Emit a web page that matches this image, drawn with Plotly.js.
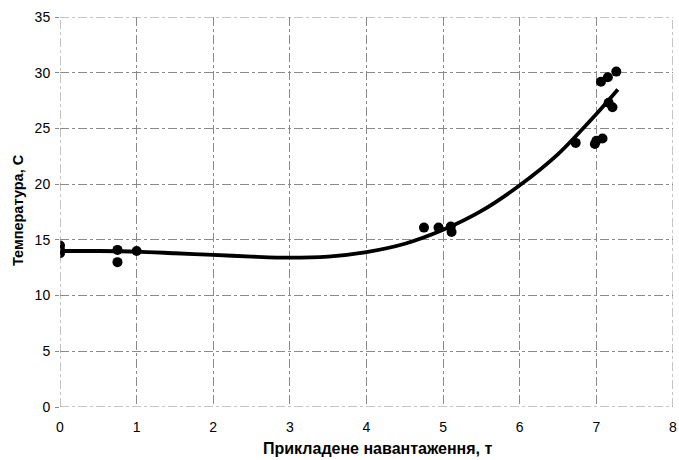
<!DOCTYPE html>
<html>
<head>
<meta charset="utf-8">
<script src="https://cdn.plot.ly/plotly-3.0.1.min.js"></script>
<style>html,body{margin:0;padding:0;background:#fff;}#chart{width:679px;height:460px;}</style>
</head>
<body>
<div id="chart"></div>
<script>
// Measured points: applied load (t) vs temperature (C)
const loadX = [0, 0, 0, 0.75, 0.75, 1.0, 4.75, 4.94, 5.1, 5.11, 6.73, 6.98, 7.0, 7.08, 7.06, 7.15, 7.26, 7.21, 7.16];
const tempY = [14.5, 14.1, 13.8, 14.1, 13.0, 14.0, 16.1, 16.1, 16.2, 15.7, 23.7, 23.6, 23.9, 24.1, 29.2, 29.6, 30.1, 26.9, 27.3];

// Trend curve
const trendX = [0, 0.5, 1, 1.5, 2, 2.5, 3, 3.5, 4, 4.5, 5, 5.5, 6, 6.5, 7, 7.28];
const trendY = [14.0, 14.0, 13.95, 13.8, 13.65, 13.5, 13.4, 13.5, 13.9, 14.65, 15.9, 17.6, 19.9, 22.7, 26.3, 28.5];

const xTitle = 'Прикладене навантаження, т';
const yTitle = 'Температура, С';

const traces = [
  {x: trendX, y: trendY, type: 'scatter', mode: 'lines', line: {color: '#000', width: 3.8, shape: 'spline', smoothing: 0.8}, hoverinfo: 'skip'},
  {x: loadX, y: tempY, type: 'scatter', mode: 'markers', marker: {color: '#000', size: 10}}
];

const gridStyle = {showgrid: true, gridcolor: '#8a8a8a', gridwidth: 1, griddash: 'dashdot', zeroline: false, showline: false};

const layout = {
  width: 679, height: 460,
  margin: {l: 60, r: 6, t: 17, b: 53},
  paper_bgcolor: '#fff', plot_bgcolor: '#fff',
  showlegend: false,
  font: {family: 'Liberation Sans, Arial, sans-serif', color: '#000', size: 14},
  xaxis: Object.assign({range: [0, 8], dtick: 1, tick0: 0, ticks: '', ticklen: 0, ticklabelstandoff: 10, tickfont: {size: 14}}, gridStyle),
  yaxis: Object.assign({range: [0, 35], dtick: 5, tick0: 0, ticks: 'outside', ticklen: 4, tickcolor: '#8a8a8a', ticklabelstandoff: 2, tickfont: {size: 14}}, gridStyle),
  shapes: [
    {type: 'line', xref: 'x', yref: 'y', x0: 0, x1: 8, y0: 0, y1: 0, line: {color: '#8a8a8a', width: 1, dash: 'dashdot'}},
    {type: 'line', xref: 'x', yref: 'y', x0: 0, x1: 8, y0: 35, y1: 35, line: {color: '#8a8a8a', width: 1, dash: 'dashdot'}},
    {type: 'line', xref: 'x', yref: 'y', x0: 0, x1: 0, y0: 0, y1: 35, line: {color: '#8a8a8a', width: 1, dash: 'dashdot'}},
    {type: 'line', xref: 'x', yref: 'y', x0: 8, x1: 8, y0: 0, y1: 35, line: {color: '#8a8a8a', width: 1, dash: 'dashdot'}}
  ],
  annotations: [
    {text: '<b>' + xTitle + '</b>', xref: 'paper', yref: 'paper', x: 0.519, y: 0, yshift: -41, xanchor: 'center', yanchor: 'middle', showarrow: false, font: {size: 16}},
    {text: '<b>' + yTitle + '</b>', xref: 'paper', yref: 'paper', x: 0, xshift: -42, y: 0.505, textangle: -90, xanchor: 'center', yanchor: 'middle', showarrow: false, font: {size: 14.5}}
  ]
};

Plotly.newPlot('chart', traces, layout, {displayModeBar: false, staticPlot: true});
</script>
</body>
</html>
